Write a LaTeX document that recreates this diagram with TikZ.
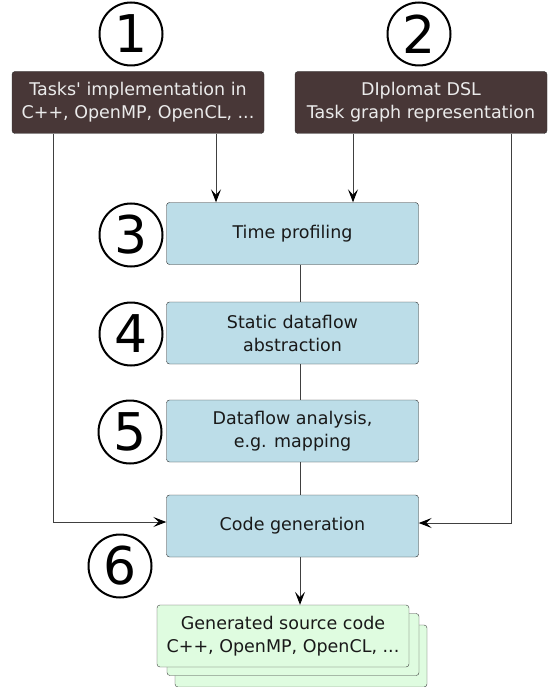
\documentclass[tikz,border=0pt]{standalone}
\usepackage{fontspec}
\setmainfont{DejaVu Sans}[Ligatures=TeXOff]
\usetikzlibrary{arrows.meta,calc}
\definecolor{darkbox}{HTML}{483737}
\definecolor{bluebox}{HTML}{BCDDE8}
\definecolor{greenbox}{HTML}{DFFCE0}
\tikzset{
  boxfont/.style={font=\fontsize{17.5}{23}\selectfont},
  inbox/.style={draw=black!80, fill=darkbox, text=white!92!black, rounded corners=3pt, align=center, boxfont, minimum width=252pt, minimum height=62pt, inner sep=0pt},
  stepbox/.style={draw=black!85, fill=bluebox, text=black!90, rounded corners=3pt, align=center, boxfont, minimum width=252pt, minimum height=62pt, inner sep=0pt},
  outbox/.style={draw=black!75, fill=greenbox, rounded corners=3pt, minimum width=252pt, minimum height=62pt, inner sep=0pt},
  numcirc/.style={circle, draw=black, line width=2pt, minimum size=63pt, inner sep=0pt, font=\fontsize{52}{52}\selectfont},
  conn/.style={draw=black!75, line width=1pt},
  arr/.style={conn, -{Stealth[length=13pt,width=10pt,inset=5.5pt,color=black]}}
}
\begin{document}
\begin{tikzpicture}[x=1pt,y=-1pt]
\useasboundingbox (0,0) rectangle (550,687);
% output stack (drawn first, clipped at the bottom edge)
\begin{scope}
\clip (0,0) rectangle (550,687);
\node[outbox] (g3) at (301,656) {};
\node[outbox] (g2) at (293,644.5) {};
\end{scope}
\node[outbox, align=center, boxfont, text=black!90] (g1) at (283,636) {Generated source code\\C++, OpenMP, OpenCL, ...};
% input boxes
\node[inbox] (b1) at (138,102.5) {Tasks' implementation in\\C++, OpenMP, OpenCL, ...};
\node[inbox] (b2) at (421,102.5) {DIplomat DSL\\Task graph representation};
% steps
\node[stepbox] (b3) at (292.5,233.5) {Time profiling};
\node[stepbox] (b4) at (292.5,333) {Static dataflow\\abstraction};
\node[stepbox] (b5) at (292.5,431) {Dataflow analysis,\\e.g. mapping};
\node[stepbox] (b6) at (292.5,526) {Code generation};
% numbers
\node[numcirc] (n1) at (131,34) {1};
\node[numcirc] (n2) at (419,34) {2};
\node[numcirc] (n3) at (131,235) {3};
\node[numcirc] (n4) at (131,334) {4};
\node[numcirc] (n5) at (130,432) {5};
\node[numcirc] (n6) at (120,566) {6};
% helper coordinates
\coordinate (xl) at (53,0);
\coordinate (xa) at (216,0);
\coordinate (xb) at (353,0);
\coordinate (xc) at (300,0);
\coordinate (xr) at (511,0);
\coordinate (yl) at (0,522);
\coordinate (yr) at (0,523);
% connectors
\draw[arr] (b1.south -| xa) -- (b3.north -| xa);
\draw[arr] (b2.south -| xb) -- (b3.north -| xb);
\draw[conn] (b3.south -| xc) -- (b4.north -| xc);
\draw[conn] (b4.south -| xc) -- (b5.north -| xc);
\draw[conn] (b5.south -| xc) -- (b6.north -| xc);
\draw[arr] (b1.south -| xl) -- (xl |- yl) -- (b6.west |- yl);
\draw[arr] (b2.south -| xr) -- (xr |- yr) -- (b6.east |- yr);
\draw[arr] (b6.south -| xc) -- (g1.north -| xc);
\end{tikzpicture}
\end{document}
